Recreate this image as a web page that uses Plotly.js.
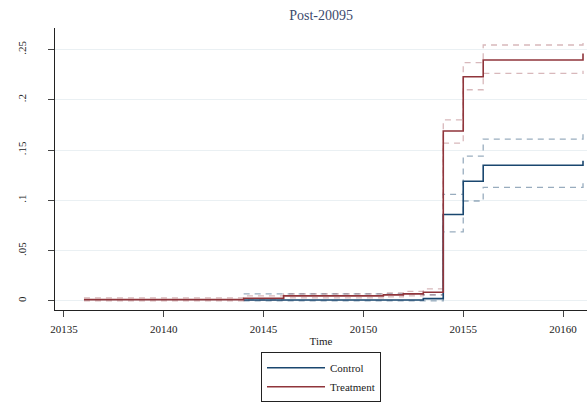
<!DOCTYPE html>
<html><head><meta charset="utf-8">
<script src="https://cdn.plot.ly/plotly-3.0.1.min.js"></script>
<style>html,body{margin:0;padding:0;background:#fff}#c{width:587px;height:405px}</style>
</head><body><div id="c"></div>
<script>
// Treatment
const treatX  = [20136, 20144, 20146, 20151, 20152, 20153, 20154, 20155, 20156, 20161];
const treatY  = [0.0013, 0.0027, 0.005, 0.006, 0.007, 0.0087, 0.169, 0.223, 0.2396, 0.246];
const treatHi = [0.003, 0.005, 0.007, 0.008, 0.0095, 0.012, 0.180, 0.237, 0.2545, 0.261];
const treatLo = [0.0, 0.001, 0.003, 0.004, 0.005, 0.006, 0.157, 0.210, 0.2263, 0.229];
// Control
const ctrlX  = [20144, 20153, 20154, 20155, 20156, 20161];
const ctrlY  = [0.001, 0.0023, 0.086, 0.119, 0.135, 0.1395];
const ctrlHi = [0.007, 0.006, 0.106, 0.144, 0.161, 0.166];
const ctrlLo = [0.0, 0.0, 0.0686, 0.0994, 0.113, 0.117];
const xTicks = [20135, 20140, 20145, 20150, 20155, 20160];
const yTicks = [0, 0.05, 0.1, 0.15, 0.2, 0.25];
const yTickText = ['0', '.05', '.1', '.15', '.2', '.25'];

const cNavy = '#1a476f', cMaroon = '#90353b';
const ciC = 'rgba(26,71,111,0.45)', ciT = 'rgba(144,53,59,0.35)';
function ci(x, y, col){
  return {x:x, y:y, mode:'lines', line:{shape:'hv', color:col, width:1.3, dash:'6px,5px'}, showlegend:false, hoverinfo:'skip'};
}
const data = [
  ci(ctrlX, ctrlHi, ciC), ci(ctrlX, ctrlLo, ciC),
  ci(treatX, treatHi, ciT), ci(treatX, treatLo, ciT),
  {x:ctrlX, y:ctrlY, name:'Control', legendgroup:'a', mode:'lines', line:{shape:'hv', color:cNavy, width:1.6}},
  {x:treatX, y:treatY, name:'Treatment', legendgroup:'b', mode:'lines', line:{shape:'hv', color:cMaroon, width:1.6}}
];
const fam = '"Liberation Serif", "DejaVu Serif", serif';
const font = {family:fam, size:11, color:'#222'};
const layout = {
  width:587, height:405,
  margin:{l:55, r:0, t:28, b:95},
  paper_bgcolor:'#fff', plot_bgcolor:'#fff',
  font:font,
  title:{text:'Post-20095', font:{family:fam, size:14, color:'#3c4a6e'}, x:0.547, xanchor:'center', y:0.975, yanchor:'top'},
  xaxis:{range:[20134.55, 20161.2], tickvals:xTicks, ticktext:xTicks.map(String), showgrid:false, zeroline:false,
    showline:true, linecolor:'#222', linewidth:1, ticks:'outside', ticklen:6, tickcolor:'#444', ticklabelstandoff:3,
    title:{text:'Time', font:{family:fam, size:11, color:'#222'}, standoff:3}},
  yaxis:{range:[-0.009, 0.2714], tickvals:yTicks, ticktext:yTickText, tickangle:-90, showgrid:true, gridcolor:'#eaf0f3', gridwidth:1,
    zeroline:false, showline:true, linecolor:'#222', linewidth:1, ticks:'outside', ticklen:6, tickcolor:'#444', ticklabelstandoff:18},
  showlegend:true,
  legend:{x:0.5, xanchor:'center', y:-0.15, yanchor:'top', orientation:'v', bordercolor:'#222', borderwidth:1,
    bgcolor:'#fff', itemwidth:58, traceorder:'grouped', tracegroupgap:0, font:{family:fam, size:11, color:'#222'}}
};
Plotly.newPlot('c', data, layout, {displayModeBar:false, staticPlot:true});
</script></body></html>
